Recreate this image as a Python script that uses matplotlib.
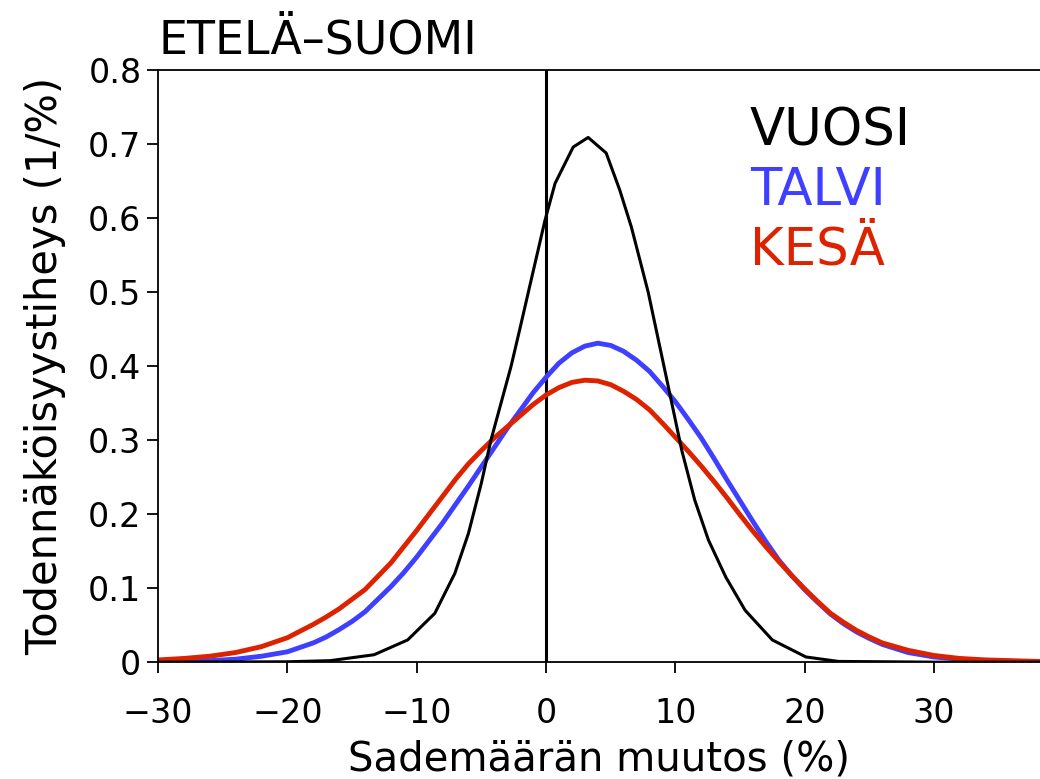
import numpy as np
import matplotlib
matplotlib.use("Agg")
import matplotlib.pyplot as plt

# VUOSI (whole year)
x_vuosi = [-30, -20, -16.7, -13.3, -10.7, -8.6, -7.05, -6.0, -5.0, -4.26, -2.7, -2.0,
           -1.3, -0.08, 0.7, 2.1, 3.26, 4.65, 5.7, 6.6, 7.9, 9.46, 10.5, 11.5, 12.56,
           13.9, 15.4, 17.5, 20.1, 22.6, 30, 38.2]
y_vuosi = [0, 0.0005, 0.002, 0.010, 0.030, 0.066, 0.12, 0.174, 0.242, 0.30, 0.40, 0.452,
           0.505, 0.597, 0.647, 0.696, 0.709, 0.688, 0.638, 0.588, 0.500, 0.372, 0.286,
           0.219, 0.165, 0.115, 0.070, 0.030, 0.007, 0.001, 0, 0]

# TALVI (winter) and KESÄ (summer)
x_grid = [-30, -28, -26, -24, -22, -20, -18,
          -17, -16, -15, -14, -13, -12, -11, -10, -9, -8, -7, -6, -5, -4, -3, -2, -1, 0,
          1, 2, 3, 4, 5, 6, 7, 8, 9, 10, 11, 12, 13, 14, 15, 16, 17, 18, 19, 20,
          21, 22, 23, 24, 25, 26,
          28, 30, 32, 34, 36, 38]
y_talvi = [0.0005, 0.001, 0.002, 0.004, 0.008, 0.014, 0.026,
           0.034, 0.044, 0.055, 0.068, 0.085, 0.102, 0.121, 0.142, 0.165, 0.188, 0.213,
           0.238, 0.264, 0.290, 0.316, 0.340, 0.364, 0.385,
           0.404, 0.418, 0.427, 0.431, 0.428, 0.420, 0.408, 0.393, 0.373, 0.352, 0.328,
           0.303, 0.275, 0.246, 0.218, 0.190, 0.163, 0.138, 0.117, 0.098,
           0.081, 0.065, 0.052, 0.041, 0.032, 0.024,
           0.013, 0.007, 0.004, 0.002, 0.001, 0.0005]
y_kesa = [0.003, 0.005, 0.008, 0.013, 0.021, 0.033, 0.051,
          0.061, 0.072, 0.085, 0.098, 0.116, 0.134, 0.156, 0.178, 0.201, 0.224, 0.247,
          0.268, 0.286, 0.303, 0.318, 0.333, 0.348, 0.361,
          0.371, 0.378, 0.381, 0.380, 0.375, 0.366, 0.355, 0.341, 0.323, 0.304, 0.285,
          0.265, 0.244, 0.222, 0.199, 0.177, 0.156, 0.136, 0.117, 0.099,
          0.082, 0.066, 0.054, 0.043, 0.034, 0.026,
          0.016, 0.009, 0.005, 0.003, 0.002, 0.001]

xticks = [-30, -20, -10, 0, 10, 20, 30]
yticks = [0, 0.1, 0.2, 0.3, 0.4, 0.5, 0.6, 0.7, 0.8]
ytick_labels = ["0", "0.1", "0.2", "0.3", "0.4", "0.5", "0.6", "0.7", "0.8"]

BLUE = "#3f3fff"
RED = "#dd2200"

plt.rcParams['font.family'] = ['DejaVu Sans']

fig = plt.figure(figsize=(10.4, 7.79), dpi=100)
ax = fig.add_axes([0.152, 0.150, 0.848, 0.760])

ax.axvline(0, color="black", lw=2.2, zorder=1)
ax.plot(x_vuosi, y_vuosi, color="black", lw=2.2, zorder=3, solid_joinstyle="round")
ax.plot(x_grid, y_talvi, color=BLUE, lw=3.5, zorder=2, solid_joinstyle="round")
ax.plot(x_grid, y_kesa, color=RED, lw=3.5, zorder=2, solid_joinstyle="round")

ax.set_xlim(-30, 38.2)
ax.set_ylim(0, 0.8)
ax.set_xticks(xticks)
ax.set_yticks(yticks)
ax.set_yticklabels(ytick_labels)
ax.tick_params(direction="out", length=8, width=1.3, labelsize=24)
ax.tick_params(axis="x", pad=17)
ax.tick_params(axis="y", pad=4)
ax.spines["right"].set_visible(False)
for s in ["left", "bottom", "top"]:
    ax.spines[s].set_linewidth(1.3)

ax.set_xlabel("Sademäärän muutos (%)", fontsize=29, labelpad=7)
ax.set_ylabel("Todennäköisyystiheys (1/%)", fontsize=30, labelpad=16)

# title sits left aligned above the frame
ax.text(0.0, 1.012, "ETELÄ–SUOMI", transform=ax.transAxes, fontsize=33,
        ha="left", va="bottom")

# legend as coloured words
ax.text(0.671, 0.873, "VUOSI", transform=ax.transAxes, fontsize=37, color="black")
ax.text(0.671, 0.772, "TALVI", transform=ax.transAxes, fontsize=37, color=BLUE)
ax.text(0.671, 0.671, "KESÄ", transform=ax.transAxes, fontsize=37, color=RED)

fig.savefig("out.png", dpi=100)
